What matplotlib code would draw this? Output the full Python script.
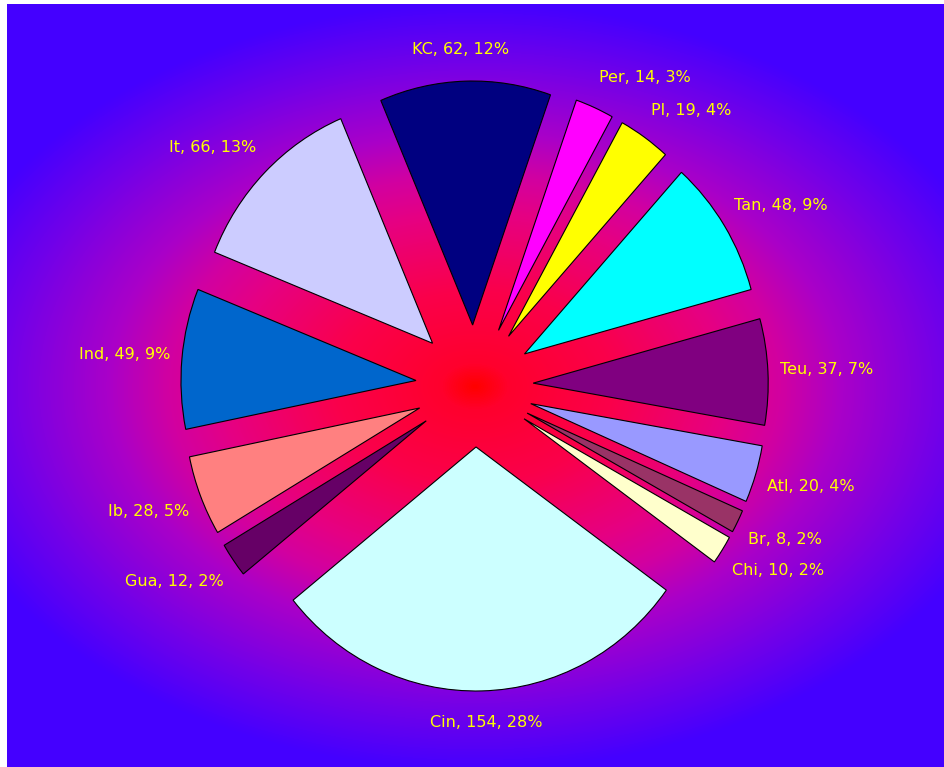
"""
Exploded pie on a radial gradient background
"""
import matplotlib.pyplot as plt
import numpy as np
from matplotlib.colors import LinearSegmentedColormap

# Data (clockwise from the top)
labels = ['KC', 'Per', 'Pl', 'Tan', 'Teu', 'Atl', 'Br', 'Chi', 'Cin', 'Gua', 'Ib', 'Ind', 'It']
values = [62, 14, 19, 48, 37, 20, 8, 10, 154, 12, 28, 49, 66]
percents = [12, 3, 4, 9, 7, 4, 2, 2, 28, 2, 5, 9, 13]
colors = ['#000080', '#ff00ff', '#ffff00', '#00ffff', '#800080', '#9999ff', '#993366',
          '#ffffcc', '#ccffff', '#660066', '#ff8080', '#0066cc', '#ccccff']

W, H = 944, 767
cx, cy = 474.5, 386       # pie centre in pixels (from top-left)
sx, sy = 235, 244         # pixels per unit radius

fig = plt.figure(figsize=(W / 100, H / 100), dpi=100)

# Background gradient (red centre -> blue edges)
bg = fig.add_axes([7 / W, 0, 1 - 7 / W, 1 - 4 / H])
bg.axis('off')
yy, xx = np.mgrid[4:H, 7:W]
t = np.sqrt(((xx - cx) / 555) ** 2 + ((yy - cy) / 384) ** 2)
stops = [(0.0, (255, 0, 0)), (0.06, (255, 0, 45)), (0.25, (250, 0, 75)),
         (0.45, (230, 0, 130)), (0.55, (210, 0, 160)), (0.66, (170, 0, 200)),
         (0.84, (115, 0, 232)), (1.0, (68, 0, 255))]
cmap = LinearSegmentedColormap.from_list('bg', [(p, tuple(c / 255 for c in rgb)) for p, rgb in stops])
bg.imshow(np.clip(t, 0, 1), cmap=cmap, vmin=0, vmax=1, aspect='auto', interpolation='bilinear')

# Pie
ax = fig.add_axes([0, 0, 1, 1])
ax.patch.set_visible(False)
wedges, _ = ax.pie(values, colors=colors, startangle=113, counterclock=False,
                   explode=[0.25] * len(values),
                   wedgeprops=dict(edgecolor='black', linewidth=0.8))
ax.set_aspect('auto')
ax.set_xlim(-cx / sx, (W - cx) / sx)
ax.set_ylim(-(H - cy) / sy, cy / sy)
ax.axis('off')

# Labels placed just outside each wedge, Excel style
renderer = fig.canvas.get_renderer()
for w, lab, v, p in zip(wedges, labels, values, percents):
    mid = np.deg2rad((w.theta1 + w.theta2) / 2)
    c, s = np.cos(mid), np.sin(mid)
    x0 = w.center[0] + 1.05 * c
    y0 = w.center[1] + 1.10 * s
    txt = ax.text(x0, y0, f'{lab}, {v}, {p}%', color='#ffff00', fontsize=11.5,
                  ha='center', va='center', family='DejaVu Sans')
    bb = txt.get_window_extent(renderer)
    kx = np.clip(c * 2.5, -1, 1)
    ky = np.clip(s * 2.5, -1, 1)
    txt.set_position((x0 + kx * bb.width / 2 / sx, y0 + ky * bb.height / 2 / sy))

fig.savefig('out.png', dpi=100, facecolor='white')
